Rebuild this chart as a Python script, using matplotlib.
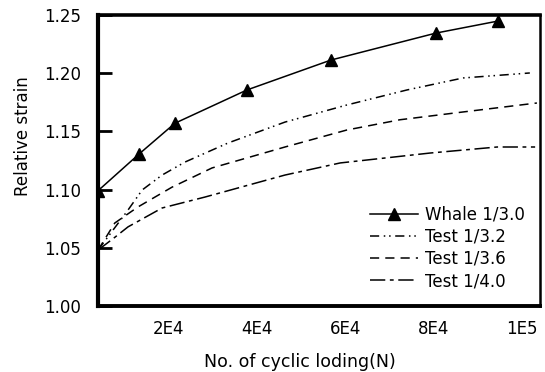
import matplotlib
matplotlib.use("Agg")
import matplotlib.pyplot as plt

plt.rcParams['font.family'] = ['DejaVu Sans']

# Data
whale_n = [4000, 13300, 21400, 37700, 56700, 80500, 94500]
whale_v = [1.099, 1.1306, 1.157, 1.1856, 1.2113, 1.2345, 1.2448]

t32_n = [4000, 10800, 14000, 18500, 23700, 33400, 46300, 60300, 73900, 86600, 101700]
t32_v = [1.048, 1.0825, 1.0997, 1.1125, 1.1237, 1.140, 1.158, 1.1727, 1.1856, 1.1959, 1.2002]

t36_n = [4000, 7800, 13000, 20700, 29800, 46300, 60300, 72300, 86600, 103300]
t36_v = [1.048, 1.0713, 1.085, 1.102, 1.1186, 1.1366, 1.1512, 1.160, 1.1667, 1.1744]

t40_n = [4000, 7800, 10800, 18500, 28200, 46300, 58800, 79100, 94300, 102900]
t40_v = [1.048, 1.059, 1.068, 1.0842, 1.0936, 1.1125, 1.1229, 1.1314, 1.1366, 1.1366]

xticks = [20000, 40000, 60000, 80000, 100000]
xticklabels = ["2E4", "4E4", "6E4", "8E4", "1E5"]
yticks = [1.00, 1.05, 1.10, 1.15, 1.20, 1.25]
yticklabels = ["1.00", "1.05", "1.10", "1.15", "1.20", "1.25"]

fig = plt.figure(figsize=(5.45, 3.72), dpi=100)
ax = fig.add_axes([98/545, 1-306/372, 442/545, 291/372])

ax.plot(whale_n, whale_v, color='black', lw=1.1, marker='^', ms=8,
        label='Whale 1/3.0')
ax.plot(t32_n, t32_v, color='black', lw=1.1, ls=(0, (6, 3, 1, 2.5, 1, 3)),
        label='Test 1/3.2')
ax.plot(t36_n, t36_v, color='black', lw=1.1, ls=(0, (6, 4)),
        label='Test 1/3.6')
ax.plot(t40_n, t40_v, color='black', lw=1.1, ls=(0, (10, 3, 2.5, 3)),
        label='Test 1/4.0')

ax.set_xlim(4000, 104000)
ax.set_ylim(1.00, 1.25)

ax.set_xticks(xticks)
ax.set_xticklabels(xticklabels, fontsize=12)
ax.set_yticks(yticks)
ax.set_yticklabels(yticklabels, fontsize=12)
ax.tick_params(axis='x', length=0, pad=10)
ax.tick_params(axis='y', direction='in', length=10, width=2, pad=12)

for side, w in [('left', 3.0), ('bottom', 2.8), ('top', 2.6), ('right', 1.8)]:
    ax.spines[side].set_linewidth(w)

ax.set_xlabel("No. of cyclic loding(N)", fontsize=12.5)
ax.xaxis.set_label_coords(0.457, -0.16)
ax.set_ylabel("Relative strain", fontsize=12)
ax.yaxis.set_label_coords(-0.15, 0.585)

ax.legend(loc='upper left', bbox_to_anchor=(0.615, 0.345), frameon=False,
          fontsize=12, borderpad=0, handlelength=2.9, handletextpad=0.4,
          labelspacing=0.25, borderaxespad=0)

fig.savefig("out.png", dpi=100)
